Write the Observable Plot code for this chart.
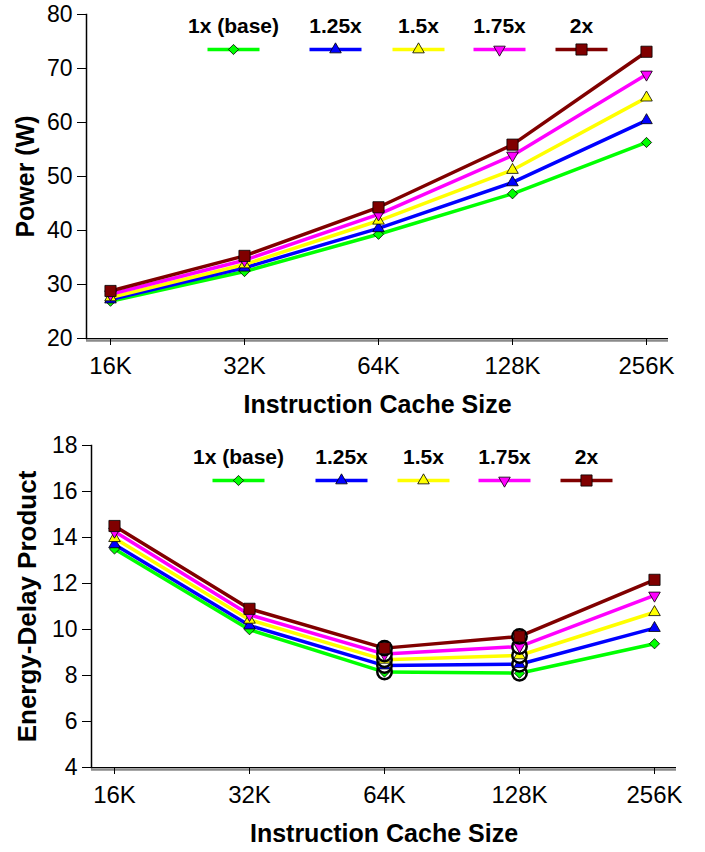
<!DOCTYPE html>
<html>
<head>
<meta charset="utf-8">
<script src="https://cdn.jsdelivr.net/npm/d3@7"></script>
<script src="https://cdn.jsdelivr.net/npm/@observablehq/plot@0.6"></script>
<style>
  body { margin: 0; background: #fff; }
  #wrap { position: relative; width: 705px; height: 852px; overflow: hidden; }
  #wrap svg { position: absolute; left: 0; }
</style>
</head>
<body>
<div id="wrap"></div>
<script>
// ---------- data ----------
const sizes = ["16K", "32K", "64K", "128K", "256K"];
const series = ["1x (base)", "1.25x", "1.5x", "1.75x", "2x"];

const power1x  = [26.9, 32.4, 39.3, 46.8, 56.3];
const power125 = [27.2, 33.1, 40.4, 48.9, 60.4];
const power15  = [27.6, 33.7, 41.8, 51.2, 64.6];
const power175 = [28.2, 34.5, 43.0, 53.9, 68.9];
const power2x  = [28.8, 35.3, 44.3, 55.9, 73.1];

const edp1x  = [13.50, 9.99, 8.15, 8.10, 9.38];
const edp125 = [13.70, 10.17, 8.43, 8.49, 10.06];
const edp15  = [13.97, 10.42, 8.68, 8.87, 10.75];
const edp175 = [14.26, 10.64, 8.93, 9.26, 11.48];
const edp2x  = [14.50, 10.90, 9.19, 9.70, 12.16];

const circledSizes = ["64K", "128K"];

const powerTicks = [20, 30, 40, 50, 60, 70, 80];
const edpTicks = [4, 6, 8, 10, 12, 14, 16, 18];

const xTitle = "Instruction Cache Size";
const powerTitle = "Power (W)";
const edpTitle = "Energy-Delay Product";

// ---------- styles ----------
const colors = ["#00ff00", "#0000ff", "#ffff00", "#ff00ff", "#800000"];
const symbols = ["diamond2", "triangle", "triangle", "triangle", "square"];
const rotations = [0, 0, 0, 180, 0];
const markerR = [4.6, 4.3, 4.3, 4.3, 6.3];
const FONT = '"Liberation Sans", Arial, Helvetica, sans-serif';

function toRows(valueArrays) {
  const out = [];
  series.forEach((s, i) => valueArrays[i].forEach((v, j) => out.push({series: s, size: sizes[j], value: v})));
  return out;
}

function makeChart(cfg) {
  const data = toRows(cfg.values);
  const marks = [
    Plot.ruleY([cfg.yDomain[0]], {stroke: "#8a8a8a", strokeWidth: 2.5, dy: 2}),
    Plot.ruleY([cfg.yDomain[0]], {stroke: "#000", strokeWidth: 1.2}),
    Plot.frame({anchor: "left", stroke: "#000", strokeWidth: 1.5}),
    Plot.axisY({ticks: cfg.yTicks, tickSize: 9, tickPadding: 5, fontSize: 23, label: null}),
    Plot.axisX({tickSize: 7, tickPadding: 11, fontSize: 24, label: null}),
    Plot.text([xTitle], {frameAnchor: "bottom", dy: 74, lineAnchor: "bottom", textAnchor: "middle", fontSize: 25, fontWeight: "bold"}),
    Plot.text([cfg.yTitle], {frameAnchor: "left", dx: cfg.yTitleDx, rotate: -90, lineAnchor: "middle", textAnchor: "middle", fontSize: cfg.yTitleSize, fontWeight: "bold"}),
    Plot.line(data, {x: "size", y: "value", z: "series", stroke: "series", strokeWidth: 3.5})
  ];
  series.forEach((s, i) => {
    const rowsS = data.filter(d => d.series === s);
    if (cfg.circled) {
      marks.push(Plot.dot(rowsS.filter(d => cfg.circled.includes(d.size)),
        {x: "size", y: "value", r: 7.2, fill: "white", stroke: "black", strokeWidth: 2.5}));
    }
    marks.push(Plot.dot(rowsS, {x: "size", y: "value", symbol: symbols[i], r: markerR[i],
      rotate: rotations[i], fill: colors[i], stroke: "black", strokeWidth: 0.8}));
  });
  return Plot.plot({
    width: 705,
    height: cfg.height,
    marginTop: cfg.marginTop,
    marginBottom: cfg.marginBottom,
    marginLeft: cfg.marginLeft,
    marginRight: cfg.marginRight,
    style: {fontFamily: FONT, background: "transparent", color: "#000", overflow: "visible"},
    x: {type: "point", domain: sizes, range: cfg.xRange, padding: 0},
    y: {domain: cfg.yDomain},
    color: {domain: series, range: colors},
    marks
  });
}

function makeLegend(xs, textY, lineY) {
  const items = series.map((s, i) => ({series: s, lx: xs[i]}));
  return Plot.plot({
    width: 705, height: 70, margin: 0,
    style: {fontFamily: FONT, background: "transparent", color: "#000", overflow: "visible"},
    x: {type: "identity", axis: null}, y: {type: "identity", axis: null},
    color: {domain: series, range: colors},
    marks: [
      Plot.text(items, {x: "lx", y: () => textY, text: "series", lineAnchor: "bottom", textAnchor: "middle", fontSize: 21, fontWeight: "bold"}),
      Plot.link(items, {x1: d => d.lx - 26, x2: d => d.lx + 26, y1: () => lineY, y2: () => lineY, stroke: "series", strokeWidth: 3.5}),
      ...series.map((s, i) => Plot.dot([items[i]], {x: "lx", y: () => lineY, symbol: symbols[i], r: markerR[i],
        rotate: rotations[i], fill: colors[i], stroke: "black", strokeWidth: 0.8}))
    ]
  });
}

const wrap = document.getElementById("wrap");

const top1 = makeChart({
  values: [power1x, power125, power15, power175, power2x],
  yTicks: powerTicks, yDomain: [20, 80], yTitle: powerTitle, yTitleDx: -61, yTitleSize: 25,
  height: 426, marginTop: 14, marginBottom: 88, marginLeft: 86, marginRight: 37,
  xRange: [108, 647]
});
top1.style.top = "0px";
wrap.appendChild(top1);
const leg1 = makeLegend([233, 335, 418, 499, 581], 32, 49);
leg1.style.top = "0px";
wrap.appendChild(leg1);

const bot = makeChart({
  values: [edp1x, edp125, edp15, edp175, edp2x],
  yTicks: edpTicks, yDomain: [4, 18], yTitle: edpTitle, yTitleDx: -64, yTitleSize: 26,
  height: 426, marginTop: 19, marginBottom: 85, marginLeft: 91, marginRight: 29,
  xRange: [113, 654], circled: circledSizes
});
bot.style.top = "426px";
wrap.appendChild(bot);
const leg2 = makeLegend([238, 341, 423, 504, 586], 37, 54);
leg2.style.top = "426px";
wrap.appendChild(leg2);
</script>
</body>
</html>
